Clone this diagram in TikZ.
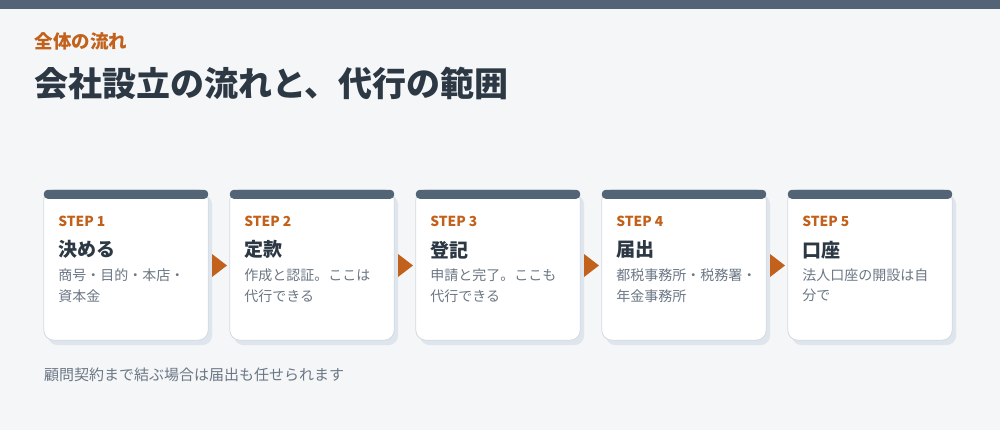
\documentclass[tikz,border=0pt]{standalone}
\usepackage{fontspec}
\setmainfont{Noto Sans CJK JP}
\usetikzlibrary{calc}
\definecolor{bg}{HTML}{F5F6F8}
\definecolor{topbar}{HTML}{536477}
\definecolor{accent}{HTML}{C2611B}
\definecolor{ink}{HTML}{2C3844}
\definecolor{muted}{HTML}{6B7785}
\definecolor{cardline}{HTML}{D3DAE2}
\definecolor{shade}{HTML}{DFE5EC}
\begin{document}
\begin{tikzpicture}[x=1pt,y=-1pt,
  txt/.style={anchor=west,inner sep=0pt,outer sep=0pt},
  kicker/.style={txt,text=accent,font=\fontsize{18.5}{21}\selectfont\bfseries},
  headline/.style={txt,text=ink,font=\fontsize{34}{39}\selectfont\bfseries},
  cardnode/.style={rectangle,inner sep=0pt,minimum width=164pt,minimum height=150pt},
  cardbody/.style={draw=cardline,fill=white,line width=0.8pt,rounded corners=10pt},
  cardshade/.style={fill=shade,rounded corners=10pt},
  cardbar/.style={fill=topbar,rounded corners=4pt},
  steplbl/.style={txt,text=accent,font=\fontsize{13.8}{16}\selectfont\bfseries},
  steptitle/.style={txt,text=ink,font=\fontsize{19}{22}\selectfont\bfseries},
  stepdesc/.style={txt,text=muted,font=\fontsize{14}{16}\selectfont},
  note/.style={txt,text=muted,font=\fontsize{15}{18}\selectfont},
  flowtri/.style={fill=accent}]
\fill[bg] (0,0) rectangle (1000,430);
\useasboundingbox (0,0) rectangle (1000,430);
\fill[topbar] (0,0) rectangle (1000,9);
\node[kicker] (kick) at (34.5,41) {全体の流れ};
\node[headline] (head) at (34,83.5) {会社設立の流れと、代行の範囲};
\foreach \i/\ttl/\la/\lb [evaluate=\i as \cx using 126+186*(\i-1)] in
  {1/決める/商号・目的・本店・/資本金,
   2/定款/作成と認証。ここは/代行できる,
   3/登記/申請と完了。ここも/代行できる,
   4/届出/都税事務所・税務署・/年金事務所,
   5/口座/法人口座の開設は自/分で}{
  \node[cardnode] (c\i) at (\cx,265) {};
  \fill[cardshade] ($(c\i.north west)+(4,5)$) rectangle ($(c\i.south east)+(4,5)$);
  \draw[cardbody] (c\i.north west) rectangle (c\i.south east);
  \fill[cardbar] (c\i.north west) rectangle ($(c\i.north east)+(0,9)$);
  \node[steplbl] (s\i) at ($(c\i.north west)+(14.5,32)$) {STEP \i};
  \node[steptitle] (t\i) at ($(c\i.north west)+(14.5,60)$) {\ttl};
  \node[stepdesc] (da\i) at ($(c\i.north west)+(14.5,85.5)$) {\la};
  \node[stepdesc] (db\i) at ($(c\i.north west)+(14.5,106)$) {\lb};
}
\foreach \i [evaluate=\i as \j using int(\i+1)] in {1,...,4}{
  \coordinate (m\i) at ($(c\i.east)!0.5!(c\j.west)+(0.5,0.5)$);
  \fill[flowtri] ($(m\i)+(-7.5,-11.5)$) -- ($(m\i)+(7.5,0)$) -- ($(m\i)+(-7.5,11.5)$) -- cycle;
}
\node[note] (foot) at (44,375) {顧問契約まで結ぶ場合は届出も任せられます};
\end{tikzpicture}
\end{document}
